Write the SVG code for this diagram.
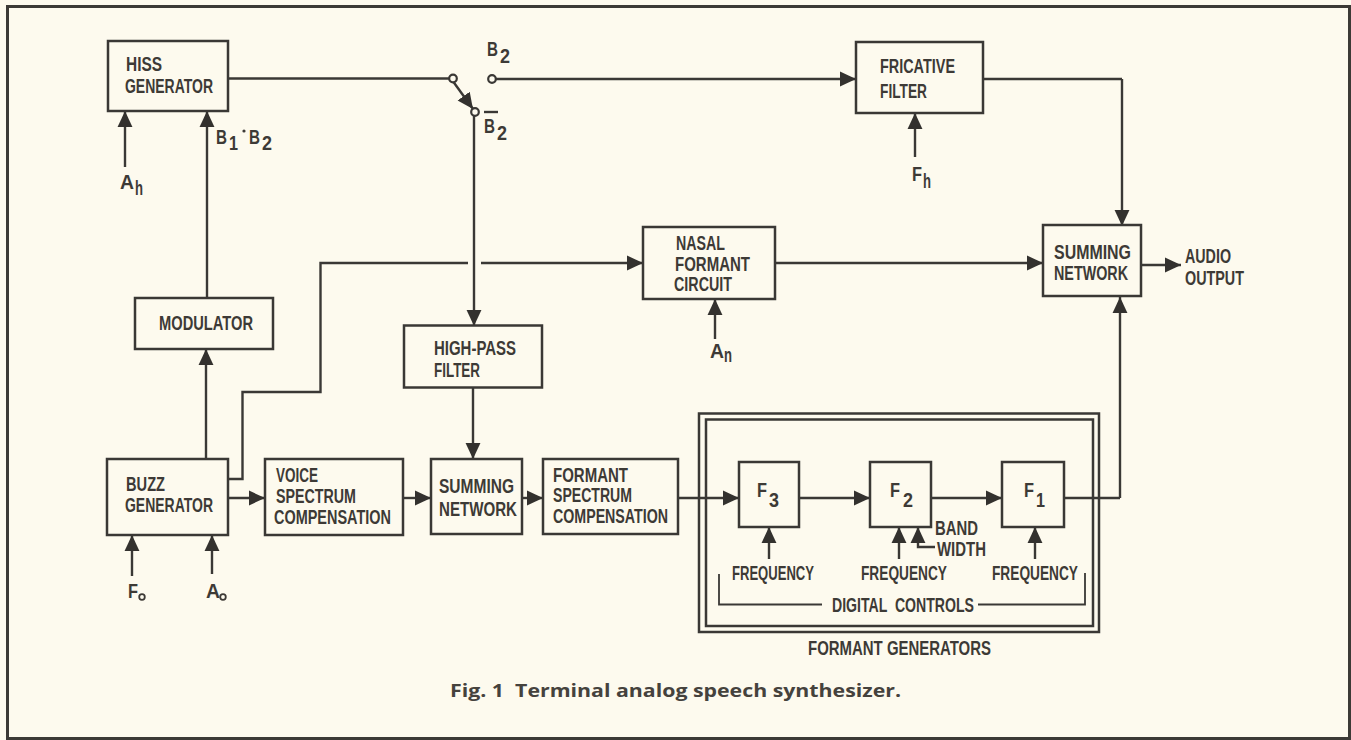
<svg xmlns="http://www.w3.org/2000/svg" width="1351" height="740" viewBox="0 0 1351 740">
<style>
.box{fill:none;stroke:#3a3835;stroke-width:2.5}
.ln{fill:none;stroke:#3a3835;stroke-width:2.4}
.thin{fill:none;stroke:#3a3835;stroke-width:1.8}
.arr{marker-end:url(#ah)}
.sw{fill:#fdfaee;stroke:#3a3835;stroke-width:2.2}
text{font-family:"Liberation Sans",Arial,sans-serif;font-weight:700;font-size:20px;fill:#3d3a36}
.cap{font-family:"Open Sans",sans-serif;font-weight:700;font-size:18px;fill:#45423d}
</style>
<defs>
<marker id="ah" markerUnits="userSpaceOnUse" markerWidth="16" markerHeight="16" refX="14" refY="7" orient="auto" viewBox="0 0 14 14"><path d="M0,0.500 L14,7 L0,13.500 Z" fill="#33312e"/></marker>
</defs>
<rect x="0" y="0" width="1351" height="740" fill="#fdfaee"/>
<rect id="frame" x="7.500" y="6.500" width="1342" height="732" fill="none" stroke="#3c3a36" stroke-width="3"/>

<g id="connectors">
<path class="ln" d="M228,78.500H449"/>
<path class="ln arr" d="M453.500,82L473,109"/>
<path class="ln arr" d="M496,79H856"/>
<path class="ln arr" d="M474,116V326"/>
<path class="ln arr" d="M473,388V459"/>
<path class="ln" d="M983,79H1122"/>
<path class="ln arr" d="M1122,79V226"/>
<path class="ln" d="M228,479H242.500V392H320.500V263H468"/>
<path class="ln arr" d="M481,263H643"/>
<path class="ln arr" d="M775,263H1043"/>
<path class="ln arr" d="M1141,265H1181"/>
<path class="ln arr" d="M206,459V349"/>
<path class="ln arr" d="M207,298V111"/>
<path class="ln arr" d="M125,167V111"/>
<path class="ln arr" d="M915,157V113"/>
<path class="ln arr" d="M715,339V299"/>
<path class="ln arr" d="M132,576V535"/>
<path class="ln arr" d="M212,574V535"/>
<path class="ln arr" d="M228,498H265"/>
<path class="ln arr" d="M403,498H431"/>
<path class="ln arr" d="M522,498H543"/>
<path class="ln arr" d="M678,498H739"/>
<path class="ln arr" d="M799,498H870"/>
<path class="ln arr" d="M931,498H1002"/>
<path class="ln" d="M1064,498H1120"/>
<path class="ln arr" d="M1120,498V297"/>
<path class="ln arr" d="M769,559V527"/>
<path class="ln arr" d="M899,559V527"/>
<path class="ln arr" d="M935,547H918V527"/>
<path class="ln arr" d="M1035,559V527"/>
<path class="thin" d="M719,574V604.500H822"/>
<path class="thin" d="M978,604.500H1085V573"/>
</g>

<g id="switch">
<circle class="sw" cx="453" cy="78.500" r="3.800"/>
<circle class="sw" cx="492" cy="79" r="3.800"/>
<circle class="sw" cx="475" cy="112" r="3.800"/>
<text x="487" y="56" textLength="11" lengthAdjust="spacingAndGlyphs">B</text><text x="500" y="63" textLength="10" lengthAdjust="spacingAndGlyphs">2</text>
<path class="ln" d="M484,112H498"/>
<text x="484" y="133" textLength="11" lengthAdjust="spacingAndGlyphs">B</text><text x="497" y="140" textLength="10" lengthAdjust="spacingAndGlyphs">2</text>
</g>

<g id="hiss"><rect class="box" x="108" y="41" width="120" height="70"/>
<text x="126" y="71" textLength="36" lengthAdjust="spacingAndGlyphs">HISS</text>
<text x="125" y="93" textLength="88" lengthAdjust="spacingAndGlyphs">GENERATOR</text></g>
<g id="label-ah"><text x="120" y="189" textLength="14" lengthAdjust="spacingAndGlyphs">A</text><text x="135" y="195" textLength="8" lengthAdjust="spacingAndGlyphs">h</text></g>
<g id="label-b1b2"><text x="216" y="144" textLength="11" lengthAdjust="spacingAndGlyphs">B</text><text x="229" y="150" textLength="9" lengthAdjust="spacingAndGlyphs">1</text><circle cx="244" cy="131" r="1.600" fill="#3d3a36"/><text x="249" y="144" textLength="11" lengthAdjust="spacingAndGlyphs">B</text><text x="262" y="150" textLength="10" lengthAdjust="spacingAndGlyphs">2</text></g>

<g id="modulator"><rect class="box" x="135" y="298" width="138" height="51"/>
<text x="159" y="330" textLength="94" lengthAdjust="spacingAndGlyphs">MODULATOR</text></g>

<g id="highpass"><rect class="box" x="404" y="325.500" width="138" height="62"/>
<text x="434" y="355" textLength="82" lengthAdjust="spacingAndGlyphs">HIGH-PASS</text>
<text x="434" y="377" textLength="46" lengthAdjust="spacingAndGlyphs">FILTER</text></g>

<g id="buzz"><rect class="box" x="107" y="459" width="121" height="76"/>
<text x="126" y="491" textLength="39" lengthAdjust="spacingAndGlyphs">BUZZ</text>
<text x="125" y="512" textLength="88" lengthAdjust="spacingAndGlyphs">GENERATOR</text></g>
<g id="label-f0"><text x="128" y="598" textLength="10" lengthAdjust="spacingAndGlyphs">F</text><circle cx="142" cy="597" r="2.800" fill="none" stroke="#3d3a36" stroke-width="1.800"/></g>
<g id="label-a0"><text x="206" y="598" textLength="14" lengthAdjust="spacingAndGlyphs">A</text><circle cx="223" cy="597" r="2.800" fill="none" stroke="#3d3a36" stroke-width="1.800"/></g>

<g id="voice"><rect class="box" x="265" y="459" width="138" height="76"/>
<text x="276" y="482" textLength="42" lengthAdjust="spacingAndGlyphs">VOICE</text>
<text x="276" y="503" textLength="80" lengthAdjust="spacingAndGlyphs">SPECTRUM</text>
<text x="274" y="524" textLength="117" lengthAdjust="spacingAndGlyphs">COMPENSATION</text></g>

<g id="summing1"><rect class="box" x="431" y="459" width="91" height="75"/>
<text x="439" y="493" textLength="75" lengthAdjust="spacingAndGlyphs">SUMMING</text>
<text x="439" y="516" textLength="78" lengthAdjust="spacingAndGlyphs">NETWORK</text></g>

<g id="formant"><rect class="box" x="543" y="459" width="135" height="75"/>
<text x="553" y="482" textLength="75" lengthAdjust="spacingAndGlyphs">FORMANT</text>
<text x="553" y="502" textLength="79" lengthAdjust="spacingAndGlyphs">SPECTRUM</text>
<text x="553" y="523" textLength="115" lengthAdjust="spacingAndGlyphs">COMPENSATION</text></g>

<g id="fricative"><rect class="box" x="856" y="42" width="127" height="71"/>
<text x="880" y="73" textLength="75" lengthAdjust="spacingAndGlyphs">FRICATIVE</text>
<text x="880" y="98" textLength="47" lengthAdjust="spacingAndGlyphs">FILTER</text></g>
<g id="label-fh"><text x="912" y="181" textLength="10" lengthAdjust="spacingAndGlyphs">F</text><text x="923" y="188" textLength="8" lengthAdjust="spacingAndGlyphs">h</text></g>

<g id="nasal"><rect class="box" x="643" y="227" width="132" height="72"/>
<text x="676" y="250" textLength="49" lengthAdjust="spacingAndGlyphs">NASAL</text>
<text x="675" y="271" textLength="75" lengthAdjust="spacingAndGlyphs">FORMANT</text>
<text x="674" y="291" textLength="58" lengthAdjust="spacingAndGlyphs">CIRCUIT</text></g>
<g id="label-an"><text x="710" y="358" textLength="14" lengthAdjust="spacingAndGlyphs">A</text><text x="724" y="362" textLength="8" lengthAdjust="spacingAndGlyphs">n</text></g>

<g id="summing2"><rect class="box" x="1043" y="225" width="98" height="71"/>
<text x="1054" y="259" textLength="77" lengthAdjust="spacingAndGlyphs">SUMMING</text>
<text x="1054" y="280" textLength="74" lengthAdjust="spacingAndGlyphs">NETWORK</text></g>
<g id="audio"><text x="1185" y="263" textLength="46" lengthAdjust="spacingAndGlyphs">AUDIO</text>
<text x="1185" y="285" textLength="59" lengthAdjust="spacingAndGlyphs">OUTPUT</text></g>

<g id="formant-generators">
<rect class="box" x="699" y="413.500" width="400" height="218.500"/>
<rect class="box" x="706" y="419.500" width="387" height="206.500"/>
<text x="808" y="655" textLength="183" lengthAdjust="spacingAndGlyphs">FORMANT GENERATORS</text>
</g>
<g id="f3"><rect class="box" x="739" y="462" width="60" height="65"/><text x="757" y="497" textLength="10" lengthAdjust="spacingAndGlyphs">F</text><text x="769" y="507" textLength="10" lengthAdjust="spacingAndGlyphs">3</text></g>
<g id="f2"><rect class="box" x="870" y="462" width="61" height="65"/><text x="890" y="497" textLength="10" lengthAdjust="spacingAndGlyphs">F</text><text x="903" y="507" textLength="10" lengthAdjust="spacingAndGlyphs">2</text></g>
<g id="f1"><rect class="box" x="1002" y="462" width="62" height="65"/><text x="1024" y="497" textLength="10" lengthAdjust="spacingAndGlyphs">F</text><text x="1036" y="507" textLength="9" lengthAdjust="spacingAndGlyphs">1</text></g>
<g id="bandwidth"><text x="935" y="535" textLength="43" lengthAdjust="spacingAndGlyphs">BAND</text>
<text x="937" y="556" textLength="49" lengthAdjust="spacingAndGlyphs">WIDTH</text></g>
<g id="frequency-labels">
<text x="732" y="580" textLength="82" lengthAdjust="spacingAndGlyphs">FREQUENCY</text>
<text x="861" y="580" textLength="86" lengthAdjust="spacingAndGlyphs">FREQUENCY</text>
<text x="992" y="580" textLength="86" lengthAdjust="spacingAndGlyphs">FREQUENCY</text>
</g>
<g id="digital-controls"><text x="832" y="612" textLength="142" lengthAdjust="spacingAndGlyphs" xml:space="preserve">DIGITAL  CONTROLS</text></g>
<g id="caption"><text class="cap" x="450" y="697" textLength="451" lengthAdjust="spacingAndGlyphs" xml:space="preserve">Fig. 1  Terminal analog speech synthesizer.</text></g>
</svg>
